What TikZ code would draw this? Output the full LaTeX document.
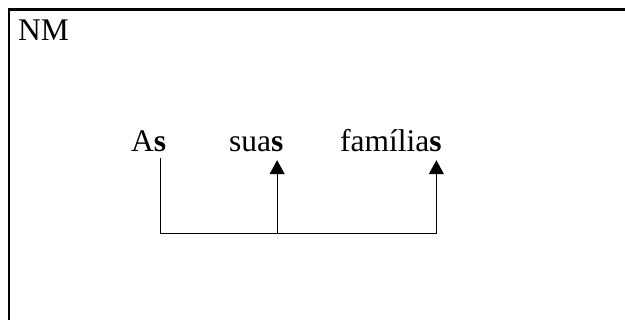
\documentclass[tikz,border=0pt]{standalone}
\usepackage{fontspec}
\setmainfont{Liberation Serif}
\usepackage{tikz}
\usetikzlibrary{arrows.meta}

\tikzset{
  word/.style={draw=none, anchor=base west, inner xsep=0pt, inner ysep=6pt,
               text depth=0pt, font=\fontsize{31.5}{38}\selectfont},
  link/.style={line width=1pt},
  up/.style={link, -{Triangle[width=15pt,length=14pt]}, shorten >=2pt}
}

\begin{document}
\begin{tikzpicture}[x=1pt,y=1pt]
             \clip (0,0) rectangle (625,320);
             % frame, only its top and left edges show
             \draw[line width=2.5pt] (9,-20) rectangle (650,310.5);
             \node[word] (nm) at (18, 279.5) {NM};

             \node[word] (as)   at (131, 168) {A\textbf{s}};
             \node[word] (suas) at (229, 168) {sua\textbf{s}};
             \node[word] (fam)  at (340, 168) {família\textbf{s}};

             \coordinate (low) at (0, 86);
             \draw[link] ([xshift=-6pt]as.south east) -- ([xshift=-6pt]as.south east |- low)
                         -- ([xshift=-5.5pt]fam.south east |- low);
             \draw[up] ([xshift=-6.5pt]suas.south east |- low) -- ([xshift=-6.5pt]suas.south east);
             \draw[up] ([xshift=-5.5pt]fam.south east |- low) -- ([xshift=-5.5pt]fam.south east);
             \end{tikzpicture}
\end{document}
